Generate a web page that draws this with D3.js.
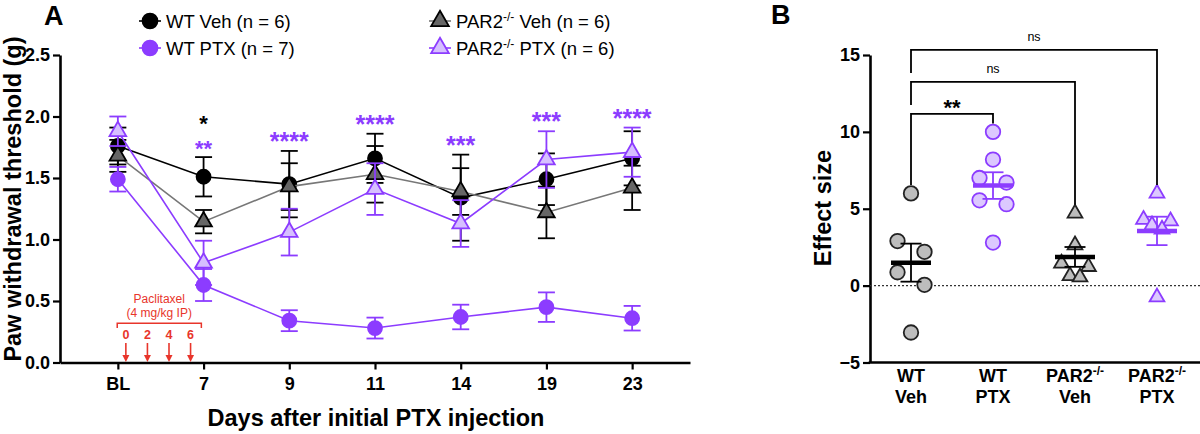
<!DOCTYPE html>
<html><head><meta charset="utf-8">
<script src="https://cdn.jsdelivr.net/npm/d3@7"></script>
<style>
body{margin:0;background:#fff}
svg{display:block;font-family:"Liberation Sans",Arial,Helvetica,sans-serif}
</style>
</head><body>
<svg id="c" width="1200" height="434"></svg>
<script>
// ---------- DATA: panel A ----------
const days = ["BL","7","9","11","14","19","23"];
const wtVeh     = [1.76,1.51,1.45,1.66,1.34,1.49,1.66];
const wtVehSem  = [0.15,0.16,0.27,0.20,0.35,0.21,0.22];
const wtPtx     = [1.49,0.63,0.34,0.28,0.37,0.45,0.36];
const wtPtxSem  = [0.10,0.13,0.085,0.085,0.10,0.12,0.10];
const parVeh    = [1.68,1.145,1.43,1.53,1.39,1.22,1.42];
const parVehSem = [0.13,0.095,0.19,0.23,0.19,0.21,0.18];
const parPtx    = [1.88,0.81,1.06,1.41,1.13,1.65,1.71];
const parPtxSem = [0.12,0.18,0.19,0.21,0.19,0.23,0.20];
const sigPtx = ["","**","****","****","***","***","****"];
const sigVeh = ["","*","","","","",""];
const yTicksA = [0,0.5,1.0,1.5,2.0,2.5];
const doseDays = [0,2,4,6];

// ---------- DATA: panel B ----------
const groups = ["WT Veh","WT PTX","PAR2 Veh","PAR2 PTX"];
const bWtVeh  = [6.0,2.9,2.2,0.87,0.05,-3.05];
const bWtPtx  = [10.0,8.2,7.0,6.7,5.55,5.3,2.8];
const bParVeh = [4.7,2.64,1.45,1.23,0.63,0.55];
const bParPtx = [6.0,4.3,4.2,3.94,3.66,-0.75];
const yTicksB = [-5,0,5,10,15];
const comparisons = [
  {a:"WT Veh", b:"WT PTX",   label:"**"},
  {a:"WT Veh", b:"PAR2 Veh", label:"ns"},
  {a:"WT Veh", b:"PAR2 PTX", label:"ns"}
];

// ---------- STYLE ----------
const PURPLE = "#8c3cff", LPURPLE = "#d6bfff", RED = "#e8352b";
const svg = d3.select("#c");

// ================= PANEL A =================
const xA = d3.scalePoint().domain(days).range([60,690]).padding(0.675);
const yA = d3.scaleLinear().domain([0,2.5]).range([362.5,55]);

const series = [
  {vals:wtVeh,  sem:wtVehSem,  shape:d3.symbolCircle,   size:154, fill:"#000",   stroke:"#000",  line:"#000",  err:"#000",
   label:["WT Veh (n = 6)"], lx:150, ly:21},
  {vals:parVeh, sem:parVehSem, shape:d3.symbolTriangle, size:120, fill:"#666",   stroke:"#000",  line:"#777",  err:"#000",
   label:["PAR2","-/-"," Veh (n = 6)"], lx:440, ly:21},
  {vals:parPtx, sem:parPtxSem, shape:d3.symbolTriangle, size:120, fill:LPURPLE,  stroke:PURPLE,  line:PURPLE,  err:PURPLE,
   label:["PAR2","-/-"," PTX (n = 6)"], lx:440, ly:48},
  {vals:wtPtx,  sem:wtPtxSem,  shape:d3.symbolCircle,   size:154, fill:PURPLE,   stroke:PURPLE,  line:PURPLE,  err:PURPLE,
   label:["WT PTX (n = 7)"], lx:150, ly:48}
];

const gA = svg.append("g");

// axes
const yAxA = gA.append("g").attr("transform","translate(60,0)")
  .call(d3.axisLeft(yA).tickValues(yTicksA).tickFormat(d3.format(".1f")).tickSize(7).tickPadding(3).tickSizeOuter(0));
const xAxA = gA.append("g").attr("transform","translate(0,362.5)")
  .call(d3.axisBottom(xA).tickSize(7).tickPadding(8).tickSizeOuter(0));
[yAxA,xAxA].forEach(a=>{
  a.select(".domain").attr("stroke","#000").attr("stroke-width",2.6);
  a.selectAll(".tick line").attr("stroke","#000").attr("stroke-width",2.2);
  a.selectAll(".tick text").attr("fill","#000").attr("font-size",18).attr("font-weight","bold").attr("font-family","Liberation Sans, Arial, sans-serif");
});

// axis titles
gA.append("text").attr("transform","translate(21,199) rotate(-90)").attr("text-anchor","middle")
  .attr("font-size",23.5).attr("font-weight","bold").text("Paw withdrawal threshold (g)");
gA.append("text").attr("x",376).attr("y",426).attr("text-anchor","middle")
  .attr("font-size",23.5).attr("font-weight","bold").text("Days after initial PTX injection");
// panel label
svg.append("text").attr("x",44).attr("y",25).attr("font-size",27).attr("font-weight","bold").text("A");

// series: lines, error bars, markers
const lineGen = d3.line().x((d,i)=>xA(days[i])).y(d=>yA(d));
series.forEach(s=>{
  const g = gA.append("g");
  g.append("path").datum(s.vals).attr("d",lineGen).attr("fill","none").attr("stroke",s.line).attr("stroke-width",1.6);
  const eb = g.selectAll(".eb").data(s.vals).join("g");
  eb.append("line").attr("x1",(d,i)=>xA(days[i])).attr("x2",(d,i)=>xA(days[i]))
    .attr("y1",(d,i)=>yA(d+s.sem[i])).attr("y2",(d,i)=>yA(d-s.sem[i]))
    .attr("stroke",s.err).attr("stroke-width",1.8);
  [1,-1].forEach(sg=>{
    eb.append("line").attr("x1",(d,i)=>xA(days[i])-8.5).attr("x2",(d,i)=>xA(days[i])+8.5)
      .attr("y1",(d,i)=>yA(d+sg*s.sem[i])).attr("y2",(d,i)=>yA(d+sg*s.sem[i]))
      .attr("stroke",s.err).attr("stroke-width",1.8);
  });
  g.selectAll(".m").data(s.vals).join("path")
    .attr("d",d3.symbol(s.shape,s.size))
    .attr("transform",(d,i)=>`translate(${xA(days[i])},${yA(d)})`)
    .attr("fill",s.fill).attr("stroke",s.stroke).attr("stroke-width",1.8);
});

// significance stars
days.forEach((d,i)=>{
  const top = d3.max(series, s=>s.vals[i]+s.sem[i]);
  const yb = yA(top) - 1;
  const stacked = sigPtx[i] && sigVeh[i];
  const fs = stacked ? 22 : 25;
  if (sigPtx[i]) gA.append("text").attr("x",xA(d)).attr("y",yb).attr("text-anchor","middle")
    .attr("font-size",fs).attr("font-weight","bold").attr("fill",PURPLE).text(sigPtx[i]);
  if (sigVeh[i]) gA.append("text").attr("x",xA(d)).attr("y",sigPtx[i] ? yb-25 : yb).attr("text-anchor","middle")
    .attr("font-size",fs).attr("font-weight","bold").attr("fill","#000").text(sigVeh[i]);
});

// legend
series.forEach(s=>{
  const g = svg.append("g").attr("transform",`translate(${s.lx},${s.ly})`);
  g.append("line").attr("x1",-11).attr("x2",11).attr("stroke",s.line).attr("stroke-width",1.6);
  g.append("path").attr("d",d3.symbol(s.shape,s.shape===d3.symbolCircle?175:135))
    .attr("fill",s.fill).attr("stroke",s.stroke).attr("stroke-width",1.8);
  const t = g.append("text").attr("x",16).attr("y",7).attr("font-size",18.5).attr("fill","#000");
  t.append("tspan").text(s.label[0]);
  if (s.label.length>1){
    t.append("tspan").attr("font-size",12).attr("dy",-7).text(s.label[1]);
    t.append("tspan").attr("dy",7).text(s.label[2]);
  }
});

// paclitaxel annotation
const xDose = d3.scaleLinear().domain([0,6]).range([xA("BL")+8, xA("7")-13]);
const gP = gA.append("g").attr("fill",RED);
gP.append("text").attr("x",xDose(3)+1).attr("y",303).attr("text-anchor","middle").attr("font-size",12).text("Paclitaxel");
gP.append("text").attr("x",xDose(3)+1).attr("y",317).attr("text-anchor","middle").attr("font-size",12).text("(4 mg/kg IP)");
gP.append("path").attr("d",`M${xDose(-0.8)},328V323.3H${xDose(7)}V328`).attr("fill","none").attr("stroke",RED).attr("stroke-width",1.5);
doseDays.forEach(d=>{
  const x = xDose(d);
  gP.append("text").attr("x",x).attr("y",339).attr("text-anchor","middle").attr("font-size",12.5).attr("font-weight","bold").text(d);
  gP.append("line").attr("x1",x).attr("x2",x).attr("y1",343).attr("y2",356).attr("stroke",RED).attr("stroke-width",1.6);
  gP.append("path").attr("d",`M${x-3.5},355L${x+3.5},355L${x},362Z`).attr("fill",RED);
});

// ================= PANEL B =================
const xB = d3.scalePoint().domain(groups).range([870,1198]).padding(0.5);
const yB = d3.scaleLinear().domain([-5,15]).range([362.5,55]);
const gB = svg.append("g");
svg.append("text").attr("x",771).attr("y",24).attr("font-size",27).attr("font-weight","bold").text("B");

const yAxB = gB.append("g").attr("transform","translate(870,0)")
  .call(d3.axisLeft(yB).tickValues(yTicksB).tickSize(7).tickPadding(3).tickSizeOuter(0));
yAxB.select(".domain").attr("stroke","#000").attr("stroke-width",2.6);
yAxB.selectAll(".tick line").attr("stroke","#000").attr("stroke-width",2.2);
yAxB.selectAll(".tick text").attr("fill","#000").attr("font-size",18).attr("font-weight","bold").attr("font-family","Liberation Sans, Arial, sans-serif");
const xAxB = gB.append("g").attr("transform","translate(0,362.5)")
  .call(d3.axisBottom(xB).tickSize(0).tickSizeOuter(0).tickFormat(""));
xAxB.select(".domain").attr("d","M868.7,0H1200").attr("stroke","#000").attr("stroke-width",2.6);

gB.append("text").attr("transform","translate(831,208) rotate(-90)").attr("text-anchor","middle")
  .attr("font-size",23.5).attr("font-weight","bold").text("Effect size");

// category labels
const catLabels = [["WT","","Veh"],["WT","","PTX"],["PAR2","-/-","Veh"],["PAR2","-/-","PTX"]];
groups.forEach((g,i)=>{
  const l = catLabels[i];
  const t = gB.append("text").attr("x",xB(g)).attr("y",381.5).attr("text-anchor","middle").attr("font-size",18).attr("font-weight","bold");
  t.append("tspan").text(l[0]);
  if (l[1]) t.append("tspan").attr("font-size",12).attr("dy",-7).text(l[1]);
  gB.append("text").attr("x",xB(g)).attr("y",402.5).attr("text-anchor","middle").attr("font-size",18).attr("font-weight","bold").text(l[2]);
});

// zero line
gB.append("line").attr("x1",870).attr("x2",1200).attr("y1",yB(0)).attr("y2",yB(0))
  .attr("stroke","#333").attr("stroke-width",1.1).attr("stroke-dasharray","2,2");

const bSeries = [
  {g:"WT Veh",  vals:bWtVeh,  shape:d3.symbolCircle,   size:165, fill:"#bdbdbd", stroke:"#222", bar:"#000"},
  {g:"WT PTX",  vals:bWtPtx,  shape:d3.symbolCircle,   size:165, fill:"#dcc8ff", stroke:PURPLE, bar:PURPLE},
  {g:"PAR2 Veh",vals:bParVeh, shape:d3.symbolTriangle, size:95,  fill:"#bdbdbd", stroke:"#222", bar:"#000"},
  {g:"PAR2 PTX",vals:bParPtx, shape:d3.symbolTriangle, size:95,  fill:"#dcc8ff", stroke:PURPLE, bar:PURPLE}
];

// simple dodge: cluster points closer than a marker, spread alternately
function dodge(vals){
  const idx = vals.map((v,i)=>i).sort((a,b)=>vals[b]-vals[a]);
  const off = new Array(vals.length).fill(0);
  let clusters = [], cur = [idx[0]];
  for (let k=1;k<idx.length;k++){
    if (yB(vals[idx[k]]) - yB(vals[idx[k-1]]) < 14) cur.push(idx[k]);
    else { clusters.push(cur); cur=[idx[k]]; }
  }
  clusters.push(cur);
  clusters.forEach(c=>{
    if (c.length<2) return;
    c.forEach((p,j)=>{
      const mag = j<2 ? 13.5 : 5;
      off[p] = (j%2===0?-1:1)*mag;
    });
  });
  return off;
}

bSeries.forEach(s=>{
  const off = dodge(s.vals);
  const cx = xB(s.g);
  gB.append("g").selectAll("path").data(s.vals).join("path")
    .attr("d",d3.symbol(s.shape,s.size))
    .attr("transform",(d,i)=>`translate(${cx+off[i]},${yB(d)})`)
    .attr("fill",s.fill).attr("stroke",s.stroke).attr("stroke-width",1.8);
  const m = d3.mean(s.vals), se = d3.deviation(s.vals)/Math.sqrt(s.vals.length);
  const g = gB.append("g").attr("stroke",s.bar);
  g.append("line").attr("x1",cx).attr("x2",cx).attr("y1",yB(m+se)).attr("y2",yB(m-se)).attr("stroke-width",1.8);
  [1,-1].forEach(sg=>g.append("line").attr("x1",cx-10.5).attr("x2",cx+10.5).attr("y1",yB(m+sg*se)).attr("y2",yB(m+sg*se)).attr("stroke-width",1.8));
  g.append("line").attr("x1",cx-20).attr("x2",cx+20).attr("y1",yB(m)).attr("y2",yB(m)).attr("stroke-width",4.5);
});

// comparison brackets
const maxAll = d3.max(bSeries, s=>d3.max(s.vals));
const levels = comparisons.map((c,i)=>yB(maxAll)-18-i*32);
comparisons.forEach((c,i)=>{
  const sa = bSeries.find(s=>s.g===c.a), sb = bSeries.find(s=>s.g===c.b);
  const xa = xB(c.a), xb = xB(c.b), yl = levels[i];
  const la = i===0 ? yB(d3.max(sa.vals))-8.5 : levels[i-1]-9;
  const lb = yB(d3.max(sb.vals))-8.5;
  gB.append("path").attr("d",`M${xa},${la}V${yl}H${xb}V${lb}`).attr("fill","none").attr("stroke","#000").attr("stroke-width",1.8);
  const t = gB.append("text").attr("x",(xa+xb)/2).attr("text-anchor","middle").text(c.label);
  if (c.label==="ns") t.attr("y",yl-8.5).attr("font-size",12.5);
  else t.attr("y",yl+1).attr("font-size",22).attr("font-weight","bold");
});
</script>
</body></html>
